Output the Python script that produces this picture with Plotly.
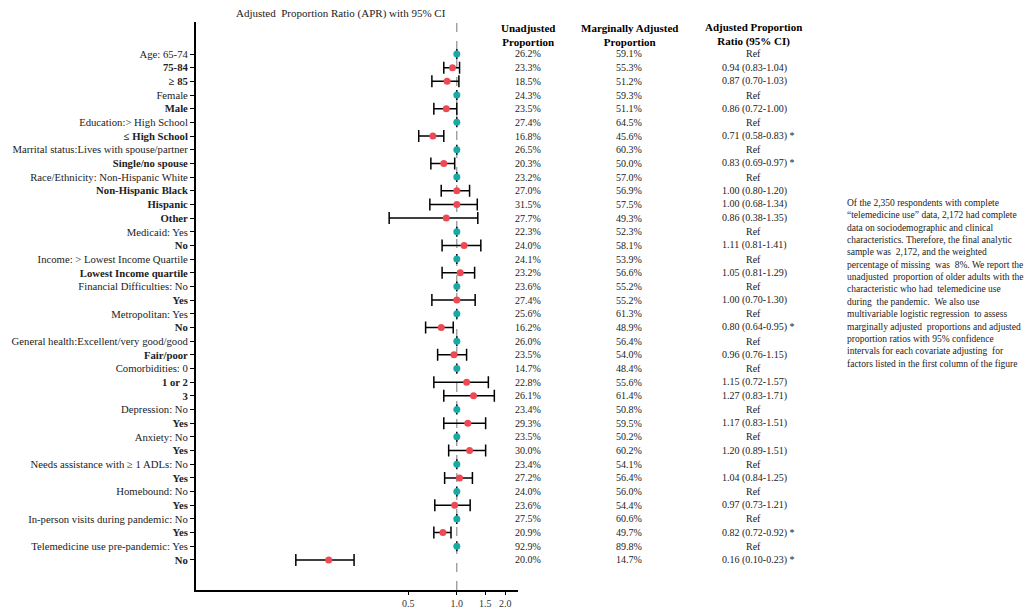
import plotly.graph_objects as go

# rows of the forest plot, top to bottom
labels = [
    "Age: 65-74", "75-84", "≥ 85",
    "Female", "Male",
    "Education:> High School", "≤ High School",
    "Marrital status:Lives with spouse/partner", "Single/no spouse",
    "Race/Ethnicity: Non-Hispanic White", "Non-Hispanic Black", "Hispanic", "Other",
    "Medicaid: Yes", "No",
    "Income: > Lowest Income Quartile", "Lowest Income quartile",
    "Financial Difficulties: No", "Yes",
    "Metropolitan: Yes", "No",
    "General health:Excellent/very good/good", "Fair/poor",
    "Comorbidities: 0", "1 or 2", "3",
    "Depression: No", "Yes",
    "Anxiety: No", "Yes",
    "Needs assistance with ≥ 1 ADLs: No", "Yes",
    "Homebound: No", "Yes",
    "In-person visits during pandemic: No", "Yes",
    "Telemedicine use pre-pandemic: Yes", "No",
]
bold = [
    0, 1, 1, 0, 1, 0, 1, 0, 1, 0, 1, 1, 1, 0, 1, 0, 1, 0, 1,
    0, 1, 0, 1, 0, 1, 1, 0, 1, 0, 1, 0, 1, 0, 1, 0, 1, 0, 1,
]
unadjusted = [
    "26.2%", "23.3%", "18.5%", "24.3%", "23.5%", "27.4%", "16.8%", "26.5%", "20.3%",
    "23.2%", "27.0%", "31.5%", "27.7%", "22.3%", "24.0%", "24.1%", "23.2%", "23.6%",
    "27.4%", "25.6%", "16.2%", "26.0%", "23.5%", "14.7%", "22.8%", "26.1%", "23.4%",
    "29.3%", "23.5%", "30.0%", "23.4%", "27.2%", "24.0%", "23.6%", "27.5%", "20.9%",
    "92.9%", "20.0%",
]
marginal = [
    "59.1%", "55.3%", "51.2%", "59.3%", "51.1%", "64.5%", "45.6%", "60.3%", "50.0%",
    "57.0%", "56.9%", "57.5%", "49.3%", "52.3%", "58.1%", "53.9%", "56.6%", "55.2%",
    "55.2%", "61.3%", "48.9%", "56.4%", "54.0%", "48.4%", "55.6%", "61.4%", "50.8%",
    "59.5%", "50.2%", "60.2%", "54.1%", "56.4%", "56.0%", "54.4%", "60.6%", "49.7%",
    "89.8%", "14.7%",
]
# adjusted proportion ratio and 95% CI (None = reference category)
apr = [
    None, 0.94, 0.87, None, 0.86, None, 0.71, None, 0.83, None, 1.00, 1.00, 0.86,
    None, 1.11, None, 1.05, None, 1.00, None, 0.80, None, 0.96, None, 1.15, 1.27,
    None, 1.17, None, 1.20, None, 1.04, None, 0.97, None, 0.82, None, 0.16,
]
apr_lo = [
    None, 0.83, 0.70, None, 0.72, None, 0.58, None, 0.69, None, 0.80, 0.68, 0.38,
    None, 0.81, None, 0.81, None, 0.70, None, 0.64, None, 0.76, None, 0.72, 0.83,
    None, 0.83, None, 0.89, None, 0.84, None, 0.73, None, 0.72, None, 0.10,
]
apr_hi = [
    None, 1.04, 1.03, None, 1.00, None, 0.83, None, 0.97, None, 1.20, 1.34, 1.35,
    None, 1.41, None, 1.29, None, 1.30, None, 0.95, None, 1.15, None, 1.57, 1.71,
    None, 1.51, None, 1.51, None, 1.25, None, 1.21, None, 0.92, None, 0.23,
]
significant = [6, 8, 20, 35, 37]
x_ticks = [0.5, 1.0, 1.5, 2.0]
x_tick_text = ["0.5", "1.0", "1.5", "2.0"]

note = (
    "Of the 2,350 respondents with complete<br>"
    "\u201ctelemedicine use\u201d data, 2,172 had complete<br>"
    "data on sociodemographic and clinical<br>"
    "characteristics. Therefore, the final analytic<br>"
    "sample was  2,172, and the weighted<br>"
    "percentage of missing  was  8%. We report the<br>"
    "unadjusted  proportion of older adults with the<br>"
    "characteristic who had  telemedicine use<br>"
    "during  the pandemic.  We also use<br>"
    "multivariable logistic regression  to assess<br>"
    "marginally adjusted  proportions and adjusted<br>"
    "proportion ratios with 95% confidence<br>"
    "intervals for each covariate adjusting  for<br>"
    "factors listed in the first column of the figure"
)

FONT = "Liberation Serif"
# the page body adds an 8px margin, so the figure is a bit smaller and shifted
OFF = 8
W, H = 1035 - OFF, 609 - OFF
RED = "#EE4A55"
TEAL = "#1BAAA3"


def px(x):
    return (x - OFF) / W


def py(y):
    return 1 - (y - OFF) / H


rows = list(range(len(labels)))
ref_rows = [i for i in rows if apr[i] is None]
est_rows = [i for i in rows if apr[i] is not None]

fig = go.Figure()

# reference categories: ratio fixed at 1
fig.add_trace(
    go.Scatter(
        x=[1.0] * len(ref_rows),
        y=ref_rows,
        mode="markers",
        marker={"color": TEAL, "size": 7},
        error_x={"type": "data", "array": [0] * len(ref_rows), "arrayminus": [0] * len(ref_rows),
                 "color": "black", "thickness": 1.5, "width": 5},
        showlegend=False,
    )
)
fig.add_trace(
    go.Scatter(
        x=[apr[i] for i in est_rows],
        y=est_rows,
        mode="markers",
        marker={"color": RED, "size": 7},
        error_x={
            "type": "data",
            "array": [apr_hi[i] - apr[i] for i in est_rows],
            "arrayminus": [apr[i] - apr_lo[i] for i in est_rows],
            "color": "black",
            "thickness": 1.5,
            "width": 6,
        },
        showlegend=False,
    )
)

fig.add_shape(type="line", xref="x", yref="y domain", x0=1, x1=1, y0=0, y1=1,
              line={"color": "#777", "width": 1, "dash": "dash"}, layer="below")

tick_text = [f"<b>{t}</b>" if b else t for t, b in zip(labels, bold)]

fig.update_layout(
    width=W,
    height=H,
    margin={"l": 0, "r": 0, "t": 0, "b": 0},
    paper_bgcolor="white",
    plot_bgcolor="white",
    font={"family": FONT, "size": 11, "color": "#222"},
    xaxis={
        "type": "log",
        "domain": [px(196), px(518)],
        "range": [-1.62, 0.38],
        "tickvals": x_ticks,
        "ticktext": x_tick_text,
        "showline": True,
        "linecolor": "black",
        "linewidth": 2,
        "ticks": "outside",
        "ticklen": 3,
        "tickcolor": "black",
        "showgrid": False,
        "zeroline": False,
        "automargin": False,
        "tickfont": {"size": 10, "color": "#333"},
    },
    yaxis={
        "domain": [py(590), py(22)],
        "range": [39.2, -2.34],
        "tickvals": rows,
        "ticktext": tick_text,
        "showline": True,
        "linecolor": "black",
        "linewidth": 2,
        "ticks": "outside",
        "ticklen": 4,
        "tickcolor": "black",
        "showgrid": False,
        "zeroline": False,
        "automargin": False,
        "tickfont": {"size": 10.7, "color": "#222"},
    },
)

anns = []
anns.append(dict(text="Adjusted  Proportion Ratio (APR) with 95% CI", x=px(341), y=py(14),
                 xref="paper", yref="paper", xanchor="center", yanchor="middle",
                 showarrow=False, font={"size": 11}))

col_x = [px(528), px(629), px(753)]
headers = ["Unadjusted<br>Proportion", "Marginally Adjusted<br>Proportion",
           "Adjusted Proportion<br>Ratio (95% CI)"]
for cx, h in zip(col_x, headers):
    anns.append(dict(text=f"<b>{h}</b>", x=cx, y=py(35), xref="paper", yref="paper",
                     xanchor="center", yanchor="middle", showarrow=False,
                     font={"size": 11, "color": "black"}))

for i in rows:
    anns.append(dict(text=unadjusted[i], x=col_x[0], y=i, xref="paper", yref="y",
                     xanchor="center", showarrow=False, font={"size": 10}))
    anns.append(dict(text=marginal[i], x=col_x[1], y=i, xref="paper", yref="y",
                     xanchor="center", showarrow=False, font={"size": 10}))
    if apr[i] is None:
        anns.append(dict(text="Ref", x=col_x[2], y=i, xref="paper", yref="y",
                         xanchor="center", showarrow=False, font={"size": 10}))
    else:
        txt = f"{apr[i]:.2f} ({apr_lo[i]:.2f}-{apr_hi[i]:.2f})"
        if i in significant:
            txt += " *"
        anns.append(dict(text=txt, x=px(720), y=i, xref="paper", yref="y", xanchor="left",
                         showarrow=False, font={"size": 10}))

anns.append(dict(text=note, x=px(845), y=py(196), xref="paper", yref="paper",
                 xanchor="left", yanchor="top", align="left", showarrow=False,
                 font={"size": 9.5}))

fig.update_layout(annotations=anns)

fig.write_html("out.html")
